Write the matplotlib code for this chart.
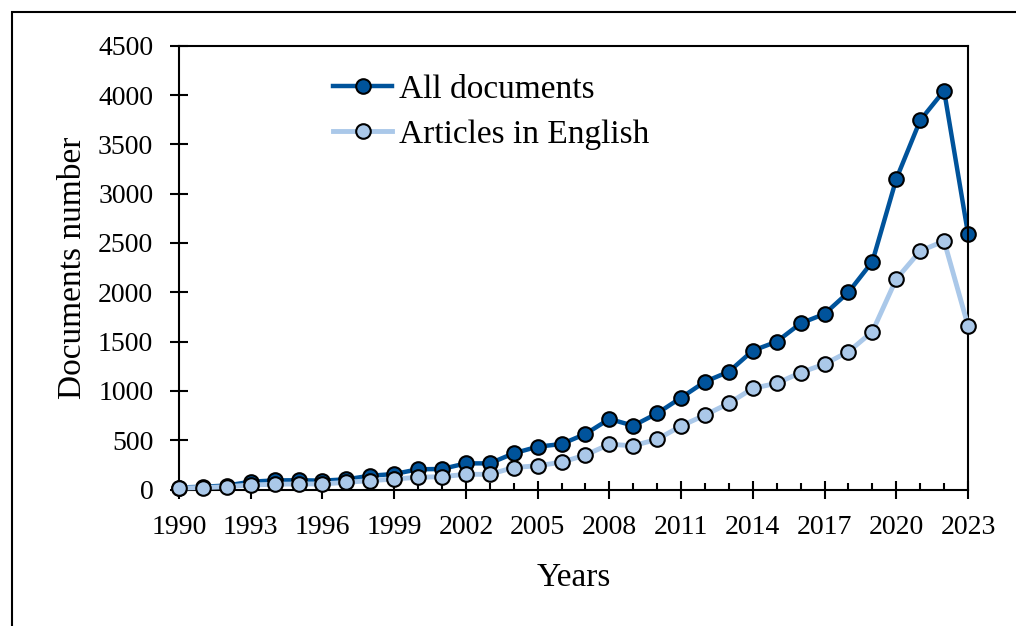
import matplotlib.pyplot as plt
from matplotlib.patches import Rectangle
from matplotlib.ticker import MultipleLocator
import numpy as np

plt.rcParams['font.family'] = ['Liberation Serif', 'DejaVu Serif']

# Данные
years = np.arange(1990, 2024)
all_documents = [20, 28, 40, 79, 92, 94, 90, 103, 140, 157, 205, 208, 265, 265,
                 367, 434, 461, 563, 715, 647, 772, 931, 1093, 1195, 1408, 1499,
                 1685, 1780, 2000, 2310, 3148, 3743, 4044, 2594]
articles_english = [15, 20, 28, 46, 53, 56, 56, 73, 90, 106, 124, 130, 154, 154,
                    223, 241, 276, 350, 458, 444, 509, 644, 755, 874, 1026, 1077,
                    1185, 1272, 1397, 1600, 2134, 2418, 2520, 1661]
year_ticks = list(range(1990, 2024, 3))

dark = '#00539b'
light = '#aac8e9'

fig = plt.figure(figsize=(10.16, 6.26), dpi=100)
ax = fig.add_axes([179 / 1016, 1 - 489.5 / 626, (968 - 179) / 1016, (489.5 - 45.7) / 626])

ax.plot(years, all_documents, color=dark, lw=3.2, marker='o', ms=10.5,
        mfc=dark, mec='black', mew=1.5, label='All documents', zorder=2, clip_on=False)
ax.plot(years, articles_english, color=light, lw=3.5, marker='o', ms=10.5,
        mfc=light, mec='black', mew=1.5, label='Articles in English', zorder=3, clip_on=False)

ax.set_xlim(1990, 2023)
ax.set_ylim(0, 4500)
ax.set_xticks(year_ticks)
ax.xaxis.set_minor_locator(MultipleLocator(1))
ax.yaxis.set_major_locator(MultipleLocator(500))
ax.tick_params(axis='both', which='major', direction='inout', length=13, width=1.5,
               labelsize=20, color='black')
ax.tick_params(axis='x', which='minor', direction='in', length=5, width=1.5)
ax.tick_params(axis='x', which='major', pad=12)
ax.tick_params(axis='y', which='major', pad=12)
for s in ax.spines.values():
    s.set_linewidth(1.5)

ax.set_xlabel('Years', fontsize=24, labelpad=16)
ax.set_ylabel('Documents number', fontsize=24, labelpad=7)

ax.legend(loc='upper left', bbox_to_anchor=(333 / 1016, 1 - 74 / 626),
          bbox_transform=fig.transFigure, frameon=False, fontsize=24,
          handlelength=1.77, handletextpad=0.2, labelspacing=0.45,
          borderaxespad=0, borderpad=0)

# Рамка вокруг рисунка
fig.add_artist(Rectangle((12 / 1016, -0.1), 1.2, 1 - 12 / 626 + 0.1,
                         transform=fig.transFigure, fill=False, lw=1.5,
                         ec='black', clip_on=False))

fig.savefig('out.png', dpi=100)
